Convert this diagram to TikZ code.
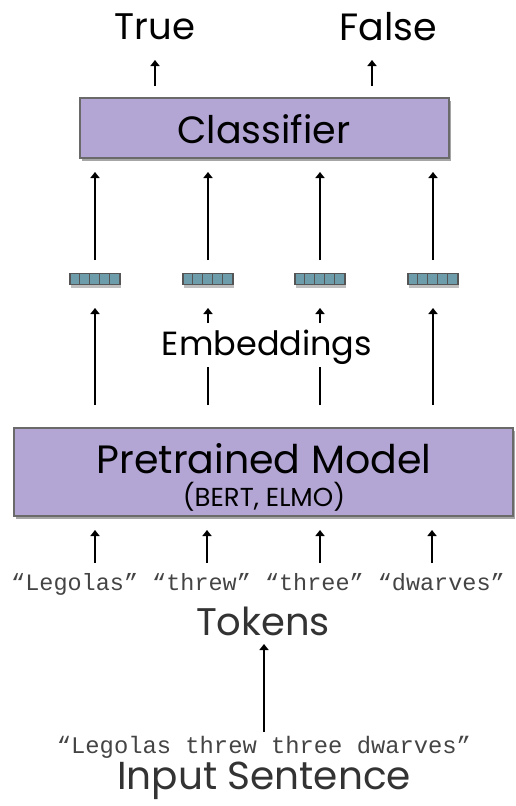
\documentclass[tikz,border=0pt]{standalone}
\usepackage{fontspec}
\setmainfont{Poppins}
\newfontfamily\monof{Liberation Mono}
\usetikzlibrary{arrows.meta,shadows}
\definecolor{boxfill}{HTML}{B3A6D4}
\definecolor{boxline}{HTML}{6A6A6A}
\definecolor{cellfill}{HTML}{6D9DAA}
\definecolor{celline}{HTML}{555555}
\definecolor{txtgray}{HTML}{333333}
\definecolor{monogray}{HTML}{444444}
\begin{document}
\begin{tikzpicture}[x=1pt,y=-1pt,
  bigbox/.style={draw=boxline, line width=1.2pt, fill=boxfill, inner sep=0pt,
    drop shadow={shadow xshift=2pt, shadow yshift=-3pt, opacity=0.35, fill=black}},
  vec/.style={draw=celline, line width=1.3pt, fill=cellfill, minimum width=50pt, minimum height=11pt, inner sep=0pt,
    drop shadow={shadow xshift=1pt, shadow yshift=-3pt, opacity=0.25, fill=black}},
  arr/.style={line width=2pt, -{Triangle[width=9pt,length=6pt]}},
  seg/.style={line width=2pt},
  lbl/.style={inner sep=0pt},
  mono/.style={inner sep=0pt, text=monogray, font=\monof\fontsize{23.5}{26}\selectfont}
]
\useasboundingbox (0,0) rectangle (516,806);

% outputs
\node[lbl, font=\fontsize{37}{40}\selectfont] (true) at (155,27) {True};
\node[lbl, font=\fontsize{38}{40}\selectfont] (false) at (388,27) {False};

% classifier
\node[bigbox, minimum width=369pt, minimum height=60pt] (cls) at (264.5,128) {};
\node[lbl, font=\fontsize{38}{42}\selectfont] (clst) at (264,129) {Classifier};

\coordinate (tA) at (155,86); \coordinate (tB) at (155,60);
\coordinate (fA) at (372,86); \coordinate (fB) at (372,60);
\draw[arr] (tA) -- (tB);
\draw[arr] (fA) -- (fB);

% embeddings vectors
\foreach \i/\x in {1/95,2/208,3/320,4/433}{
  \node[vec] (e\i) at (\x,279) {};
  \foreach \k in {1,...,4}{
    \draw[celline, line width=1pt] ([xshift=10*\k pt]e\i.north west) -- ([xshift=10*\k pt]e\i.south west);
  }
  \coordinate (ua\i) at (\x,260);
  \coordinate (ub\i) at (\x,172);
  \draw[arr] (ua\i) -- (ub\i);
}

\node[lbl, font=\fontsize{33.5}{38}\selectfont] (emb) at (267,347) {Embeddings};

% arrows from pretrained model to embeddings
\coordinate (m1a) at (95,405); \coordinate (m1b) at (95,308);
\coordinate (m4a) at (433,405); \coordinate (m4b) at (433,308);
\draw[arr] (m1a) -- (m1b);
\draw[arr] (m4a) -- (m4b);
\foreach \i/\x in {2/208,3/320}{
  \coordinate (m\i a) at (\x,405); \coordinate (m\i c) at (\x,367);
  \coordinate (m\i d) at (\x,323); \coordinate (m\i b) at (\x,308);
  \draw[seg] (m\i a) -- (m\i c);
  \draw[arr] (m\i d) -- (m\i b);
}

% pretrained model
\node[bigbox, minimum width=499pt, minimum height=88pt] (pm) at (263.5,472) {};
\node[lbl, font=\fontsize{39.5}{44}\selectfont] (pmt) at (264,459) {Pretrained Model};
\node[lbl, font=\fontsize{26}{30}\selectfont] (pms) at (264,497) {(BERT, ELMO)};

% tokens
\node[mono] (tok) at (258,584) {“Legolas” “threw” “three” “dwarves”};
\foreach \i/\x in {1/95,2/207,3/320,4/432}{
  \coordinate (ta\i) at (\x,563);
  \coordinate (tb\i) at (\x,530);
  \draw[arr] (ta\i) -- (tb\i);
}
\node[lbl, text=txtgray, font=\fontsize{38.5}{42}\selectfont] (tokl) at (263,621) {Tokens};

% input sentence
\coordinate (ia) at (264,732); \coordinate (ib) at (264,644);
\draw[arr] (ia) -- (ib);
\node[mono, font=\monof\fontsize{23.8}{26}\selectfont] (sent) at (264,747) {“Legolas threw three dwarves”};
\node[lbl, text=txtgray, font=\fontsize{39}{42}\selectfont] (inp) at (264,781) {Input Sentence};
\end{tikzpicture}
\end{document}
